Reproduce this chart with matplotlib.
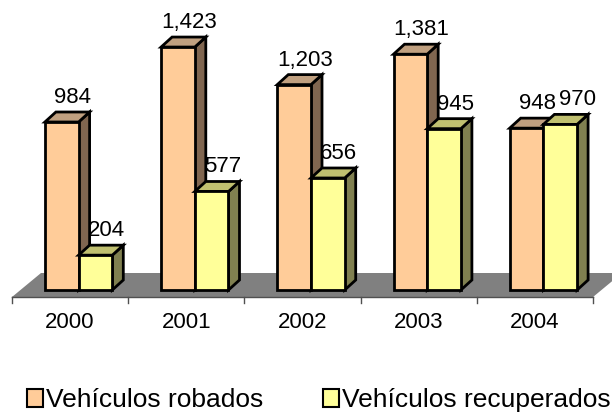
import numpy as np
import matplotlib.pyplot as plt
from matplotlib.patches import Polygon, Rectangle

years = ['2000', '2001', '2002', '2003', '2004']
robados = [984, 1423, 1203, 1381, 948]
recuperados = [204, 577, 656, 945, 970]
series_names = ['Vehículos robados', 'Vehículos recuperados']

# front / side / top colours for each series
colors = {
    'rob': ('#FFCC99', '#806650', '#C0A080'),
    'rec': ('#FFFF99', '#808050', '#C0C070'),
}

plt.rcParams['font.family'] = ['Liberation Sans', 'DejaVu Sans']

W, H = 612, 412
CAT_PX = 116.2          # pixels per category
X0_PX = 12              # left front corner of the floor
BASE_PX = 290           # bar bottom (from top)
PX_PER_UNIT = 168 / 984


def px(dx, dy):
    # pixel offset -> data offset
    return dx / CAT_PX, dy / PX_PER_UNIT


fig = plt.figure(figsize=(W / 100, H / 100), dpi=100)
ax = fig.add_axes([0, 0, 1, 1])
ax.set_xlim(-X0_PX / CAT_PX, (W - X0_PX) / CAT_PX)
ax.set_ylim(-(H - BASE_PX) / PX_PER_UNIT, BASE_PX / PX_PER_UNIT)
ax.axis('off')

# depth of one bar and of the floor
bdx, bdy = px(11, 10)
fdx, fdy = px(29, 24)
offx, offy = px(8.5, 7)   # bar front relative to floor front
bar_w = 0.29
n = len(years)

# floor
fy0 = -offy
floor = Polygon([(0, fy0), (n, fy0), (n + fdx, fy0 + fdy), (fdx, fy0 + fdy)],
                closed=True, facecolor='#808080', edgecolor='none', zorder=1)
ax.add_patch(floor)
ax.plot([0, n], [fy0, fy0], color='#505050', lw=1, zorder=2)
tdy = px(0, 6)[1]
for i in range(n + 1):
    ax.plot([i, i], [fy0, fy0 - tdy], color='#505050', lw=1, zorder=2)


def bar3d(x0, h, key):
    front, side, top = colors[key]
    x1 = x0 + bar_w
    kw = dict(closed=True, edgecolor='black', lw=2, joinstyle='miter', zorder=3)
    ax.add_patch(Polygon([(x1, 0), (x1 + bdx, bdy), (x1 + bdx, h + bdy), (x1, h)],
                         facecolor=side, **kw))
    ax.add_patch(Polygon([(x0, h), (x0 + bdx, h + bdy), (x1 + bdx, h + bdy), (x1, h)],
                         facecolor=top, **kw))
    ax.add_patch(Polygon([(x0, 0), (x1, 0), (x1, h), (x0, h)],
                         facecolor=front, **kw))


gap = px(0, 4)[1]
for i in range(n):
    c = i + 0.5 + offx
    bar3d(c - bar_w, robados[i], 'rob')
    bar3d(c, recuperados[i], 'rec')
    ax.text(c - bar_w / 2 + bdx, robados[i] + bdy + gap, f'{robados[i]:,}',
            ha='center', va='bottom', fontsize=16, zorder=4)
    nudge = px(6, 0)[0] if i == n - 1 else 0
    ax.text(c + bar_w / 2 + bdx + nudge, recuperados[i] + bdy + gap, f'{recuperados[i]:,}',
            ha='center', va='bottom', fontsize=16, zorder=4)
    ax.text(i + 0.5, -px(0, 32.5)[1], years[i], ha='center', va='center', fontsize=16)

# legend, drawn by hand in pixel positions
leg_y = 1 - 397.5 / H
for name, key, sx in zip(series_names, ['rob', 'rec'], [27, 323]):
    fig.add_artist(Rectangle((sx / W, leg_y - 9 / H), 16 / W, 18 / H,
                             transform=fig.transFigure, facecolor=colors[key][0],
                             edgecolor='black', lw=1.5))
    fig.text((sx + 19) / W, leg_y, name, ha='left', va='center_baseline', fontsize=19)

fig.savefig('out.png', dpi=100)
